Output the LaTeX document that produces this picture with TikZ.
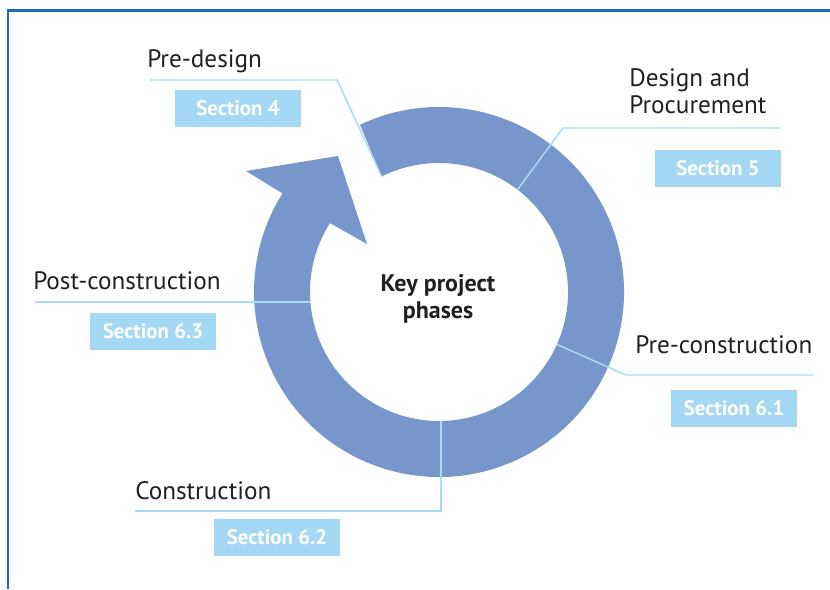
\documentclass[tikz,border=0pt]{standalone}
\usepackage{fontspec}
\setmainfont{PT Sans}
\usetikzlibrary{calc}
\definecolor{ringc}{HTML}{7797CC}
\definecolor{boxc}{HTML}{A5D8F4}
\definecolor{linec}{HTML}{A9DCF3}
\definecolor{framec}{HTML}{1B6DB5}
\definecolor{txtc}{HTML}{231F20}
\tikzset{
  lbl/.style={anchor=base west, inner sep=0pt, text=txtc, font=\fontsize{18.9pt}{21pt}\selectfont},
  secbox/.style={fill=boxc, text=white, inner sep=0pt, minimum width=94.5pt, minimum height=27.75pt,
     font=\fontsize{15.7pt}{18pt}\selectfont\bfseries},
  conn/.style={draw=linec, line width=1.1pt},
  keytxt/.style={anchor=base, inner sep=0pt, text=txtc, font=\fontsize{18pt}{20pt}\selectfont\bfseries}
}
\begin{document}
\begin{tikzpicture}[x=0.75pt,y=0.75pt]
\useasboundingbox (0,0) rectangle (830,589);
% frame
\draw[framec, line width=1.9pt] (8,0) -- (8,578.5) -- (830,578.5);
% ring with arrow head
\begin{scope}[shift={(439,297)}]
\fill[ringc] (115.3:185) arc[start angle=115.3, end angle=-212.2, radius=185]
  -- (-193,121) -- (-101,136) -- (-72,48)
  -- (-212.3:129) arc[start angle=-212.3, end angle=116.4, radius=129] -- cycle;
\coordinate (pdIn) at (116.4:129);
\coordinate (dpIn) at (52.5:129);
\coordinate (pcIn) at (-24:129);
\coordinate (cIn) at (2,-129);
\coordinate (poIn) at (-129,-10);
\end{scope}
% connector coordinates
\coordinate (pdL) at (150,509);
\coordinate (pdE) at (337,509);
\coordinate (dpE) at (563,461);
\coordinate (dpR) at (780,461);
\coordinate (pcE) at (626,214);
\coordinate (pcR) at (813,214);
\coordinate (cE) at (441,78);
\coordinate (cL) at (135,78);
\coordinate (poL) at (35,287);
% connectors
\draw[conn] (pdL) -- (pdE) -- (pdIn);
\draw[conn] (dpR) -- (dpE) -- (dpIn);
\draw[conn] (pcR) -- (pcE) -- (pcIn);
\draw[conn] (cL) -- (cE) -- (cIn);
\draw[conn] (poL) -- (poIn);
% labels
\node[lbl] (predesign) at (147,521.7) {Pre-design};
\node[lbl] (design1) at (629,502) {Design and};
\node[lbl] (design2) at (629,475) {Procurement};
\node[lbl] (precon) at (635,235.7) {Pre-construction};
\node[lbl] (postcon) at (33,299.7) {Post-construction};
\node[lbl] (con) at (135,90) {Construction};
\node[keytxt] (key1) at (438,297) {Key project};
\node[keytxt] (key2) at (438,270) {phases};
% section boxes
\node[secbox] (s4) at (238,480.7) {Section 4};
\node[secbox] (s5) at (718,420.7) {Section 5};
\node[secbox] (s61) at (734,180.7) {Section 6.1};
\node[secbox] (s63) at (153,257.5) {Section 6.3};
\node[secbox] (s62) at (277,51.5) {Section 6.2};
\end{tikzpicture}
\end{document}
